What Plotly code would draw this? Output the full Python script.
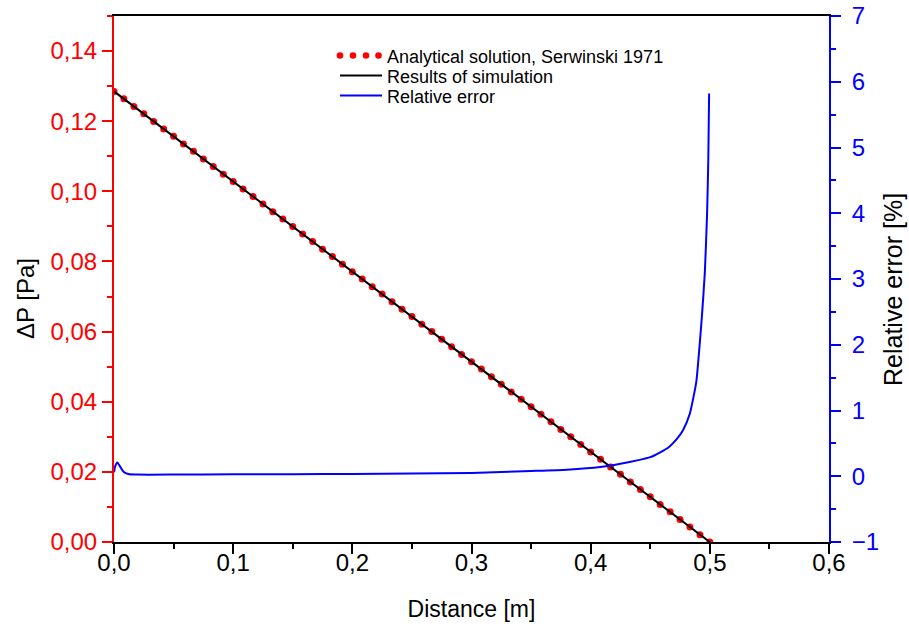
import plotly.graph_objects as go

# ---- data ----
analytical_x = [0.0000, 0.0083, 0.0167, 0.0250, 0.0333, 0.0417, 0.0500, 0.0583, 0.0667, 0.0750,
                0.0833, 0.0917, 0.1000, 0.1083, 0.1167, 0.1250, 0.1333, 0.1417, 0.1500, 0.1583,
                0.1667, 0.1750, 0.1833, 0.1917, 0.2000, 0.2083, 0.2167, 0.2250, 0.2333, 0.2417,
                0.2500, 0.2583, 0.2667, 0.2750, 0.2833, 0.2917, 0.3000, 0.3083, 0.3167, 0.3250,
                0.3333, 0.3417, 0.3500, 0.3583, 0.3667, 0.3750, 0.3833, 0.3917, 0.4000, 0.4083,
                0.4167, 0.4250, 0.4333, 0.4417, 0.4500, 0.4583, 0.4667, 0.4750, 0.4833, 0.4917,
                0.5000]
analytical_dp = [0.1285, 0.1264, 0.1242, 0.1221, 0.1199, 0.1178, 0.1157, 0.1135, 0.1114, 0.1092,
                 0.1071, 0.1049, 0.1028, 0.1007, 0.0985, 0.0964, 0.0942, 0.0921, 0.0900, 0.0878,
                 0.0857, 0.0835, 0.0814, 0.0792, 0.0771, 0.0750, 0.0728, 0.0707, 0.0685, 0.0664,
                 0.0643, 0.0621, 0.0600, 0.0578, 0.0557, 0.0535, 0.0514, 0.0493, 0.0471, 0.0450,
                 0.0428, 0.0407, 0.0386, 0.0364, 0.0343, 0.0321, 0.0300, 0.0278, 0.0257, 0.0236,
                 0.0214, 0.0193, 0.0171, 0.0150, 0.0129, 0.0107, 0.0086, 0.0064, 0.0043, 0.0021,
                 0.0000]

simulation_x = [0.0, 0.5]
simulation_dp = [0.1285, 0.0]

error_x = [0.0, 0.001, 0.0028, 0.005, 0.008, 0.012, 0.02, 0.05, 0.1, 0.15, 0.2, 0.25, 0.3,
           0.35, 0.38, 0.408, 0.425, 0.44, 0.45, 0.458, 0.466, 0.472, 0.4775, 0.4832,
           0.486, 0.4888, 0.491, 0.4935, 0.4958, 0.4977, 0.4987, 0.4994]
error_pct = [0.06, 0.15, 0.21, 0.15, 0.07, 0.035, 0.025, 0.025, 0.03, 0.03, 0.035, 0.04, 0.05,
             0.08, 0.10, 0.14, 0.19, 0.245, 0.29, 0.36, 0.45, 0.56, 0.70, 0.95,
             1.18, 1.46, 1.9, 2.47, 3.1, 4.0, 4.8, 5.82]

legend_labels = ["Analytical solution, Serwinski 1971", "Results of simulation", "Relative error"]

RED = "#ff0000"
BLUE = "#0000ff"
FONT = "Liberation Sans, Arial, sans-serif"

fig = go.Figure()
fig.add_trace(go.Scatter(x=analytical_x, y=analytical_dp, mode="markers",
                         marker=dict(color=RED, size=7, line=dict(width=0)),
                         name=legend_labels[0], showlegend=False))
fig.add_trace(go.Scatter(x=simulation_x, y=simulation_dp, mode="lines",
                         line=dict(color="black", width=2),
                         name=legend_labels[1], showlegend=False))
fig.add_trace(go.Scatter(x=error_x, y=error_pct, mode="lines", yaxis="y2",
                         line=dict(color=BLUE, width=2, shape="spline", smoothing=0.5),
                         name=legend_labels[2], showlegend=False))

# manual legend
shapes = []
annotations = []
px_w, px_h = 715.0, 526.0
x0_px = 114.0
y0_px = 542.0

def px(xp):
    return (xp - x0_px) / px_w

def py(yp):
    return (y0_px - yp) / px_h

rows = [55.5, 75.5, 95.5]
for cx in [340.0, 353.0, 366.0, 378.5]:
    r = 3.3
    shapes.append(dict(type="circle", xref="paper", yref="paper",
                       x0=px(cx - r), x1=px(cx + r), y0=py(rows[0] + r), y1=py(rows[0] - r),
                       fillcolor=RED, line=dict(width=0)))
shapes.append(dict(type="line", xref="paper", yref="paper", x0=px(340), x1=px(382),
                   y0=py(rows[1]), y1=py(rows[1]), line=dict(color="black", width=2)))
shapes.append(dict(type="line", xref="paper", yref="paper", x0=px(340), x1=px(382),
                   y0=py(rows[2]), y1=py(rows[2]), line=dict(color=BLUE, width=2)))
for lab, ry in zip(legend_labels, rows):
    annotations.append(dict(text=lab, xref="paper", yref="paper", x=px(385), y=py(ry + 1),
                            xanchor="left", yanchor="middle", showarrow=False,
                            font=dict(family=FONT, size=18, color="black")))

# axis titles for the y axes
annotations.append(dict(text="ΔP [Pa]", xref="paper", yref="paper", x=px(25), y=py(299),
                        xanchor="center", yanchor="middle", textangle=-90, showarrow=False,
                        font=dict(family=FONT, size=24, color="black")))
annotations.append(dict(text="Relative error [%]", xref="paper", yref="paper", x=px(893), y=py(290),
                        xanchor="center", yanchor="middle", textangle=-90, showarrow=False,
                        font=dict(family=FONT, size=25, color="black")))

fig.update_layout(
    width=909, height=632, autosize=False,
    margin=dict(l=114, r=80, t=16, b=90),
    paper_bgcolor="white", plot_bgcolor="white",
    separators=", ",
    font=dict(family=FONT, size=24, color="black"),
    showlegend=False,
    shapes=shapes, annotations=annotations,
    xaxis=dict(range=[0, 0.6], dtick=0.1, tick0=0, tickformat=".1f",
               showgrid=False, zeroline=False, automargin=False,
               showline=True, linecolor="black", linewidth=2, mirror=True,
               ticks="outside", ticklen=10, tickwidth=2, tickcolor="black",
               minor=dict(dtick=0.05, ticks="outside", ticklen=5, tickwidth=2, tickcolor="black"),
               tickfont=dict(size=24, color="black"), ticklabelstandoff=-12,
               title=dict(text="Distance [m]", font=dict(size=23, color="black"), standoff=26)),
    yaxis=dict(range=[0, 0.15], dtick=0.02, tick0=0, tickformat=".2f",
               showgrid=False, zeroline=False, automargin=False,
               showline=True, linecolor=RED, linewidth=2, mirror=False,
               ticks="outside", ticklen=10, tickwidth=2, tickcolor=RED,
               minor=dict(dtick=0.01, ticks="outside", ticklen=5, tickwidth=2, tickcolor=RED),
               tickfont=dict(size=24, color=RED)),
    yaxis2=dict(range=[-1, 7], dtick=1, tick0=-1, overlaying="y", side="right",
                showgrid=False, zeroline=False, automargin=False,
                showline=True, linecolor=BLUE, linewidth=2,
                ticks="outside", ticklen=10, tickwidth=2, tickcolor=BLUE,
                minor=dict(dtick=0.5, ticks="outside", ticklen=5, tickwidth=2, tickcolor=BLUE),
                tickfont=dict(size=24, color=BLUE), ticklabelstandoff=6),
)

fig.write_html("out.html")
